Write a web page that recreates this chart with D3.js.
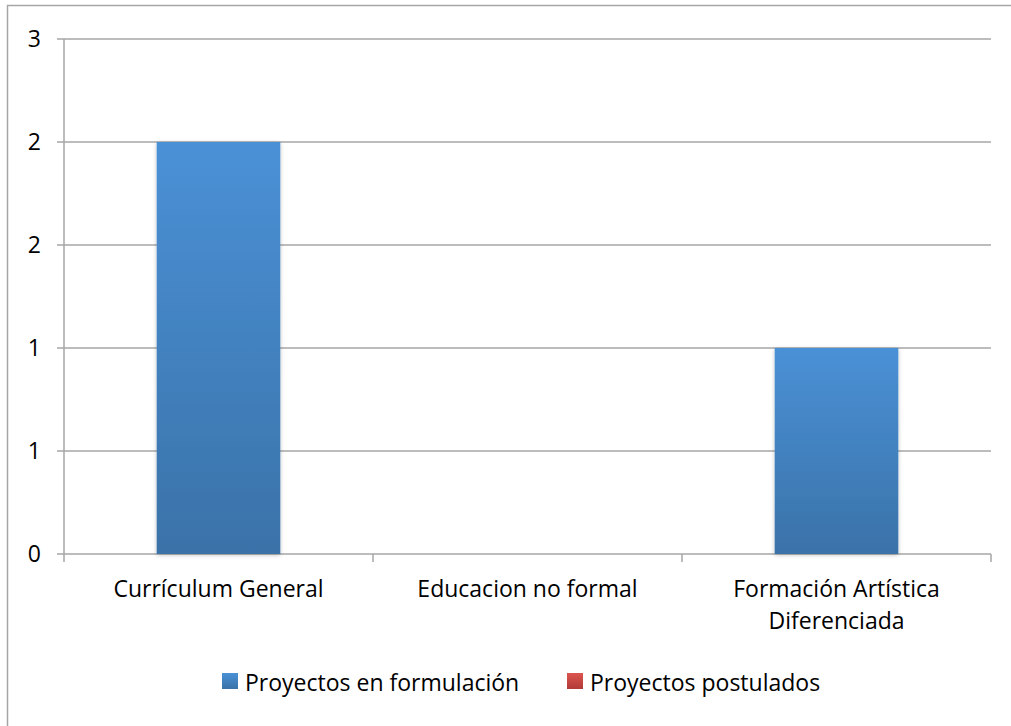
<!DOCTYPE html>
<html><head><meta charset="utf-8">
<script src="https://cdn.jsdelivr.net/npm/d3@7"></script>
<style>body{margin:0;background:#fff}svg{display:block}text{font-family:"Open Sans",sans-serif;fill:#000}</style>
</head><body><svg id="c" width="1011" height="726"></svg>
<script>
const categories = [["Currículum General"], ["Educacion no formal"], ["Formación Artística", "Diferenciada"]];
const seriesNames = ["Proyectos en formulación", "Proyectos postulados"];
const formulacion = [2, 0, 1];
const postulados = [0, 0, 0];
const tickValues = [0, 0.5, 1, 1.5, 2, 2.5];
const tickLabels = ["0", "1", "1", "2", "2", "3"];

const svg = d3.select("#c");
const L = 64, R = 991, T = 39, B = 554;
const FS = 23;
const defs = svg.append("defs");
const g1 = defs.append("linearGradient").attr("id","gb").attr("x1",0).attr("y1",0).attr("x2",0).attr("y2",1);
g1.append("stop").attr("offset",0).attr("stop-color","#4a91d6");
g1.append("stop").attr("offset",1).attr("stop-color","#3a72a8");
const g2 = defs.append("linearGradient").attr("id","gr").attr("x1",0).attr("y1",0).attr("x2",0).attr("y2",1);
g2.append("stop").attr("offset",0).attr("stop-color","#dc5550");
g2.append("stop").attr("offset",1).attr("stop-color","#b23a36");
const f = defs.append("filter").attr("id","sh").attr("x","-10%").attr("y","-10%").attr("width","120%").attr("height","120%");
f.append("feGaussianBlur").attr("in","SourceAlpha").attr("stdDeviation",2);
f.append("feOffset").attr("dx",0).attr("dy",1).attr("result","o");
f.append("feComponentTransfer").append("feFuncA").attr("type","linear").attr("slope",0.25);
const m = f.append("feMerge"); m.append("feMergeNode"); m.append("feMergeNode").attr("in","SourceGraphic");

svg.append("rect").attr("x",7.5).attr("y",5.5).attr("width",1100).attr("height",800)
  .attr("fill","#fff").attr("stroke","#a6a6a6").attr("stroke-width",1.5);

const x = d3.scaleBand().domain(d3.range(categories.length)).range([L, R]);
const y = d3.scaleLinear().domain([0, 2.5]).range([B, T]);

svg.append("g").selectAll("line").data(tickValues).join("line")
  .attr("x1", L - 7).attr("x2", R).attr("y1", d => y(d)).attr("y2", d => y(d))
  .attr("stroke", "#a6a6a6").attr("stroke-width", 1.5);
svg.append("line").attr("x1",L).attr("x2",L).attr("y1",T).attr("y2",B).attr("stroke","#a6a6a6").attr("stroke-width",1.5);
const xt = d3.range(categories.length + 1).map(i => L + i * x.step());
svg.append("g").selectAll("line").data(xt).join("line")
  .attr("x1", d => d).attr("x2", d => d).attr("y1", B).attr("y2", B + 8)
  .attr("stroke", "#a6a6a6").attr("stroke-width", 1.5);
svg.append("g").selectAll("text").data(tickValues).join("text")
  .attr("x", 41).attr("y", d => y(d)).attr("dy","0.36em").attr("text-anchor","end")
  .attr("font-size", FS).text((d,i) => tickLabels[i]);

const bw = x.bandwidth() * 0.4;
svg.append("g").selectAll("rect").data(formulacion).join("rect")
  .attr("x", (d,i) => x(i) + (x.bandwidth() - bw)/2).attr("width", bw)
  .attr("y", d => y(d)).attr("height", d => B - y(d))
  .attr("fill", "url(#gb)").attr("filter","url(#sh)")
  .style("display", d => d > 0 ? null : "none");
svg.append("g").selectAll("rect").data(postulados).join("rect")
  .attr("x", (d,i) => x(i) + (x.bandwidth() - bw)/2).attr("width", bw)
  .attr("y", d => y(d)).attr("height", d => B - y(d))
  .attr("fill", "url(#gr)")
  .style("display", d => d > 0 ? null : "none");

svg.append("g").selectAll("text").data(categories).join("text")
  .attr("x", (d,i) => x(i) + x.bandwidth()/2).attr("y", 597)
  .attr("text-anchor","middle").attr("font-size", FS)
  .selectAll("tspan").data(d => d).join("tspan")
  .attr("x", function(){ return d3.select(this.parentNode).attr("x"); })
  .attr("dy", (d,i) => i ? 32 : 0).text(d => d);

const leg = [{n: seriesNames[0], c: "url(#gb)", x: 222}, {n: seriesNames[1], c: "url(#gr)", x: 567}];
const lg = svg.append("g").selectAll("g").data(leg).join("g");
lg.append("rect").attr("x", d => d.x).attr("y", 673).attr("width", 16).attr("height", 16).attr("fill", d => d.c);
lg.append("text").attr("x", d => d.x + 23).attr("y", 683).attr("dy","0.36em").attr("font-size",FS).text(d => d.n);
</script></body></html>
